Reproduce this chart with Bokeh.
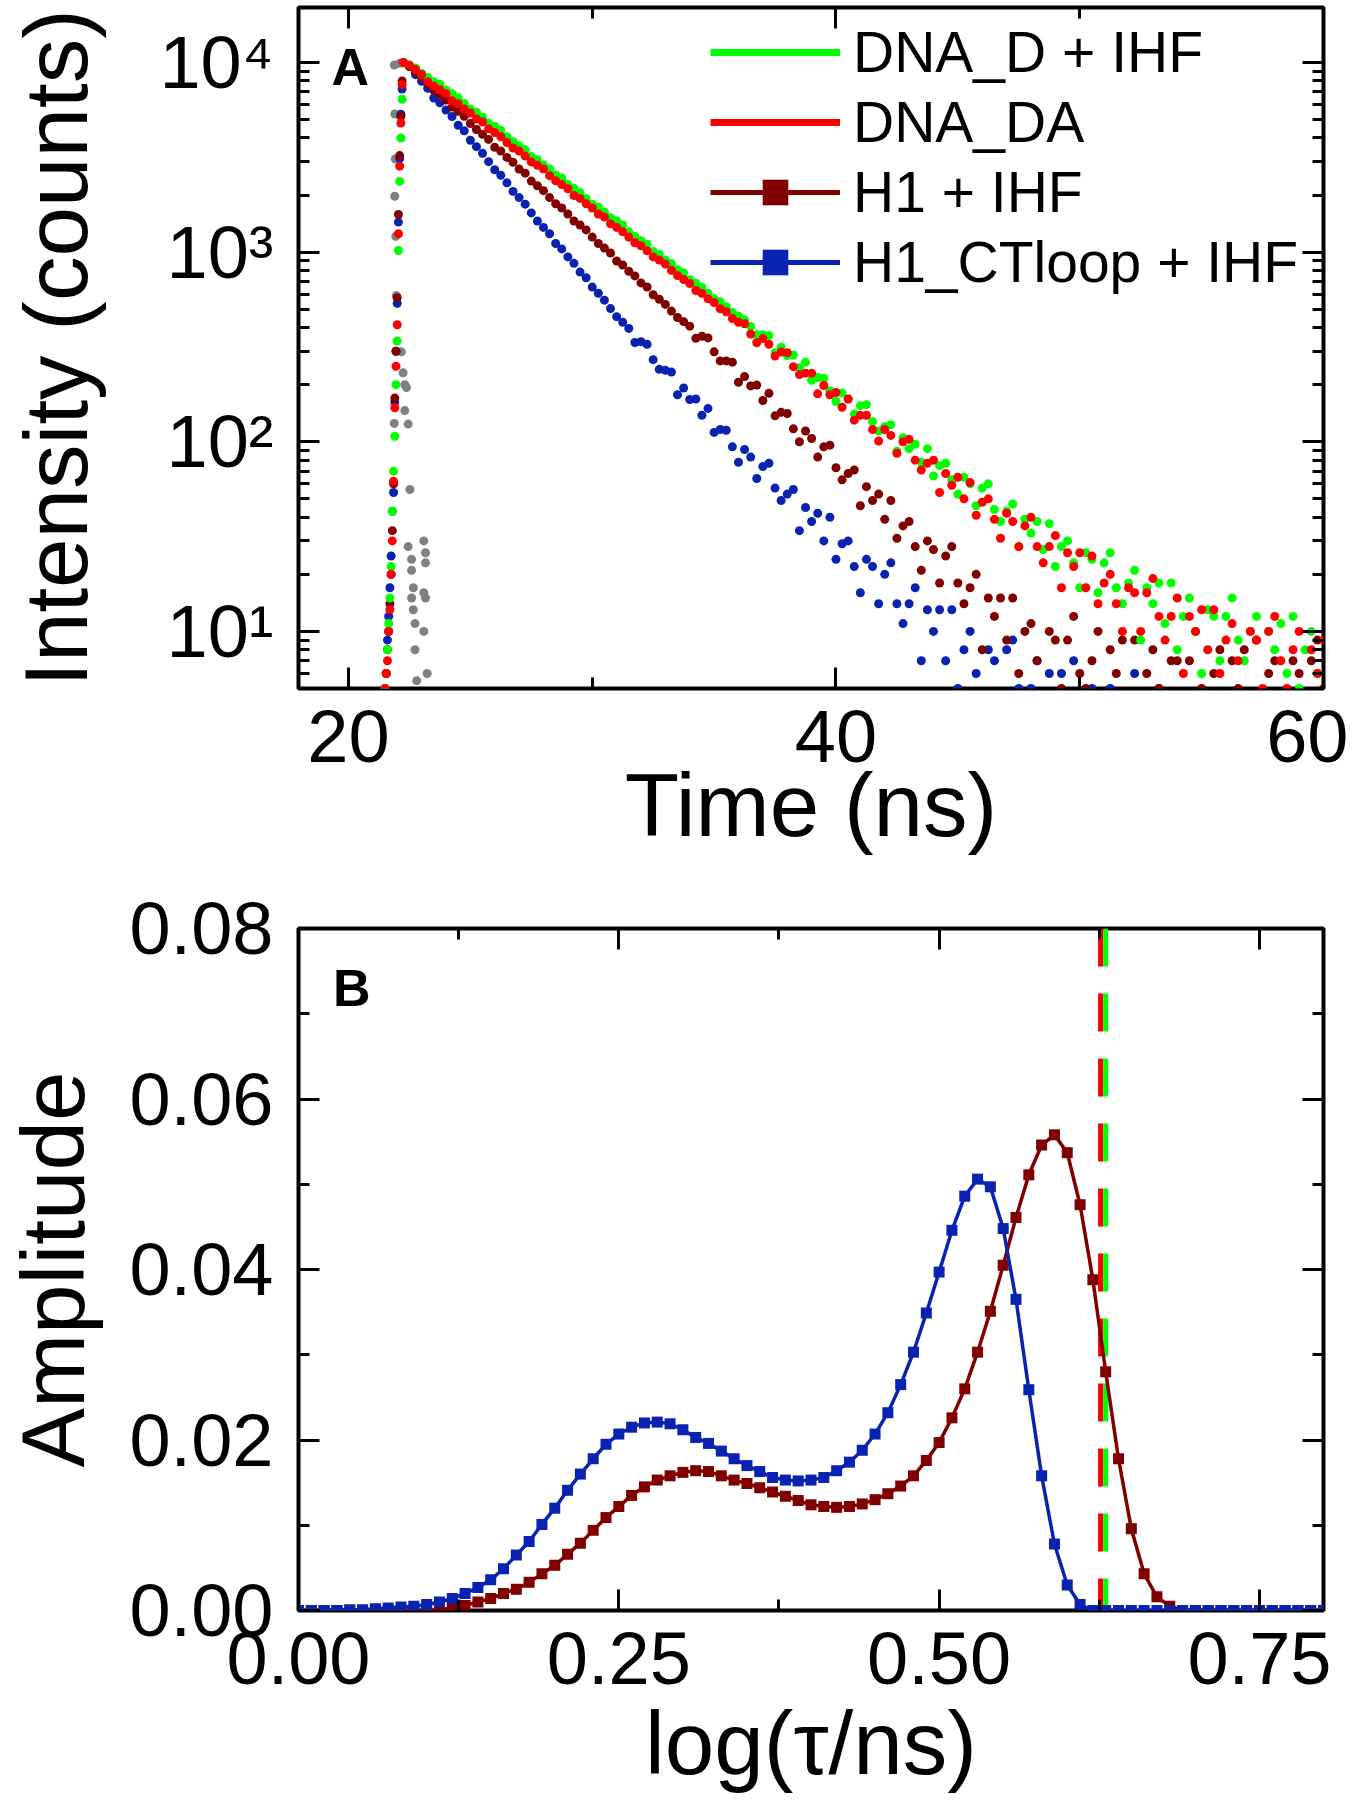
from bokeh.plotting import figure
from bokeh.models import (FixedTicker, CustomJSTickFormatter, LinearAxis, LogAxis,
                          Legend, LegendItem, Span, Label, Range1d)
from bokeh.layouts import column
from bokeh.embed import file_html
from bokeh.resources import INLINE

FONT = "Liberation Sans"
GREEN = "#00FF00"
RED = "#FF0000"
WINE = "#800000"
BLUE = "#0A22B0"
GREY = "#808080"
NAN = float("nan")

# ---------------- Panel A : fluorescence decays (counts vs time, ns) ----------------
time_rise_ns = [21.50, 21.55, 21.60, 21.65, 21.70, 21.75, 21.80, 21.85, 21.90, 21.95,
                22.00, 22.05, 22.10, 22.15, 22.20]

time_decay_ns = [22.25, 22.5, 22.75, 23.0, 23.25, 23.5, 23.75, 24.0, 24.25, 24.5,
                 24.75, 25.0, 25.25, 25.5, 25.75, 26.0, 26.25, 26.5, 26.75, 27.0,
                 27.25, 27.5, 27.75, 28.0, 28.25, 28.5, 28.75, 29.0, 29.25, 29.5,
                 29.75, 30.0, 30.25, 30.5, 30.75, 31.0, 31.25, 31.5, 31.75, 32.0,
                 32.25, 32.5, 32.75, 33.0, 33.25, 33.5, 33.75, 34.0, 34.25, 34.5,
                 34.75, 35.0, 35.25, 35.5, 35.75, 36.0, 36.25, 36.5, 36.75, 37.0,
                 37.25, 37.5, 37.75, 38.0, 38.25, 38.5, 38.75, 39.0, 39.25, 39.5,
                 39.75, 40.0, 40.25, 40.5, 40.75, 41.0, 41.25, 41.5, 41.75, 42.0,
                 42.25, 42.5, 42.75, 43.0, 43.25, 43.5, 43.75, 44.0, 44.25, 44.5,
                 44.75, 45.0, 45.25, 45.5, 45.75, 46.0, 46.25, 46.5, 46.75, 47.0,
                 47.25, 47.5, 47.75, 48.0, 48.25, 48.5, 48.75, 49.0, 49.25, 49.5,
                 49.75, 50.0, 50.25, 50.5, 50.75, 51.0, 51.25, 51.5, 51.75, 52.0,
                 52.25, 52.5, 52.75, 53.0, 53.25, 53.5, 53.75, 54.0, 54.25, 54.5,
                 54.75, 55.0, 55.25, 55.5, 55.75, 56.0, 56.25, 56.5, 56.75, 57.0,
                 57.25, 57.5, 57.75, 58.0, 58.25, 58.5, 58.75, 59.0, 59.25, 59.5,
                 59.75, 60.0]

dna_d_ihf_rise = [5, 6, 8, 11, 15, 22, 43, 70, 107, 200, 340, 1020, 2360, 4000, 6400]
dna_d_ihf_decay = [9940, 9710, 9350, 8750, 8340, 7910, 7690, 7160, 6850, 6510,
                   6070, 5680, 5470, 5150, 4790, 4610, 4390, 4060, 3820, 3640,
                   3470, 3190, 3070, 2880, 2750, 2550, 2460, 2270, 2170, 2060,
                   1920, 1790, 1730, 1630, 1520, 1460, 1390, 1280, 1210, 1150,
                   1100, 1008, 972, 910, 870, 808, 778, 716, 685, 651,
                   607, 568, 547, 515, 480, 461, 439, 406, 367, 367,
                   363, 295, 315, 285, 287, 246, 263, 211, 218, 216,
                   186, 163, 181, 168, 140, 155, 157, 128, 114, 120,
                   123, 89, 105, 92, 97, 78, 92, 66, 75, 77,
                   63, 53, 65, 60, 46, 57, 60, 44, 38, 43,
                   47, 28, 39, 33, 38, 27, 37, 22, 28, 30,
                   23, 17, 26, 24, 16, 23, 26, 17, 14, 18,
                   21, 9, 17, 14, 18, 11, 18, 8, 12, 15,
                   10, 6, 13, 12, 7, 12, 15, 9, 7, 10,
                   12, 4, 10, 8, 11, 6, 12, 5, 8, 10,
                   6, 4]

dna_da_rise = [5, 6, 7, 10, 13, 20, 30, 62, 151, 250, 414, 1250, 2840, 4800, 7650]
dna_da_decay = [10000, 9660, 9180, 8650, 7920, 7520, 7180, 6840, 6280, 6060,
                5680, 5420, 5040, 4850, 4470, 4270, 4060, 3780, 3540, 3410,
                3210, 2990, 2870, 2740, 2530, 2380, 2270, 2160, 1990, 1920,
                1800, 1710, 1590, 1530, 1410, 1350, 1280, 1200, 1120, 1080,
                1016, 944, 908, 865, 802, 752, 717, 683, 628, 606,
                568, 542, 503, 485, 447, 427, 419, 370, 333, 350,
                327, 283, 297, 295, 249, 226, 230, 230, 179, 198,
                177, 182, 152, 168, 130, 138, 138, 116, 101, 116,
                108, 87, 100, 103, 80, 71, 77, 80, 54, 68,
                59, 65, 50, 61, 41, 48, 50, 39, 31, 42,
                38, 28, 36, 40, 28, 23, 28, 32, 17, 26,
                22, 26, 17, 25, 14, 18, 20, 14, 10, 17,
                16, 10, 16, 19, 12, 9, 12, 15, 6, 12,
                10, 13, 8, 13, 6, 9, 11, 7, 4, 10,
                9, 5, 10, 12, 7, 5, 8, 10, 3, 8,
                6, 9]

h1_ihf_rise = [5, 6, 8, 10, 14, 20, 34, 60, 170, 300, 575, 1580, 3230, 5200, 8000]
h1_ihf_decay = [9990, 9540, 8920, 8390, 7720, 7140, 6800, 6340, 5820, 5530,
                5210, 4770, 4430, 4180, 3930, 3570, 3410, 3160, 2980, 2740,
                2610, 2370, 2240, 2110, 1940, 1800, 1710, 1590, 1460, 1390,
                1310, 1200, 1110, 1050, 989, 898, 856, 793, 749, 688,
                655, 596, 564, 530, 489, 452, 430, 407, 351, 360,
                353, 298, 267, 267, 263, 206, 221, 197, 199, 165,
                180, 137, 143, 141, 117, 100, 114, 104, 83, 94,
                96, 73, 63, 68, 71, 46, 58, 49, 53, 39,
                49, 31, 36, 38, 28, 21, 30, 27, 18, 25,
                28, 18, 14, 17, 20, 8, 15, 12, 15, 9,
                15, 6, 10, 11, 7, 4, 10, 9, 5, 9,
                12, 6, 5, 7, 10, 3, 8, 6, 9, 4,
                9, 3, 6, 8, 5, 2, 7, 7, 3, 7,
                10, 5, 4, 6, 8, 2, 7, 5, 8, 4,
                9, 3, 6, 7, 4, 2, 7, 6, 3, 7,
                9, 5]

h1_ctloop_ihf_rise = [5, 6, 9, 12, 17, 25, 43, 54, 162, 300, 537, 1440, 3110, 5340, 7250]
h1_ctloop_ihf_decay = [9970, 9520, 8630, 7960, 7320, 6500, 6130, 5610, 5190, 4670,
                       4360, 3890, 3600, 3320, 3000, 2720, 2540, 2320, 2090, 1940,
                       1790, 1610, 1460, 1350, 1250, 1110, 1040, 944, 873, 785,
                       733, 654, 607, 558, 504, 457, 427, 396, 334, 337,
                       327, 271, 241, 238, 233, 177, 192, 167, 168, 138,
                       150, 112, 116, 115, 94, 78, 91, 83, 64, 74,
                       77, 57, 49, 53, 56, 34, 45, 38, 42, 30,
                       40, 24, 29, 30, 22, 16, 24, 22, 14, 20,
                       23, 14, 11, 14, 17, 7, 13, 10, 13, 7,
                       13, 5, 8, 10, 6, 3, 8, 7, 3, 8,
                       9, 5, 3, 5, 7, 1, 6, 4, 6, 3,
                       7, 2, 4, 5, 3, 1, 5, 4, 1, 4,
                       6, 3, 1, 3, 5, 1, 4, 3, 4, 2,
                       4, 1, 3, 4, 2, 1, 4, 3, 1, 4,
                       4, 2, 1, 3, 4, 1, 3, 2, 4, 1,
                       4, 1]

irf_time_ns = [21.88, 21.90, 21.92, 21.90, 21.94, 21.96, 21.88, 22.10, 22.17, 22.24,
               22.31, 22.38, 22.31, 22.45, 22.52, 22.45, 22.59, 22.59, 22.66, 22.59,
               22.66, 22.73, 22.73, 22.80, 23.09, 23.16, 23.16, 23.09, 23.16, 23.09, 23.23]
irf_counts = [9700, 5350, 3100, 1970, 1210, 590, 125, 9900, 298, 231,
              200, 193, 146, 124, 56, 28, 24, 21, 17, 15,
              13, 11, 8, 5.5, 30, 26, 23, 16, 15, 10, 6]

a_x_ticks = [20, 40, 60]
a_x_tick_labels = ["20", "40", "60"]
a_x_minor = [30, 50]
a_y_ticks = [10, 100, 1000, 10000]
a_y_tick_labels = ["10\u00b9", "10\u00b2", "10\u00b3", "10\u2074"]
a_y_minor = [5, 6, 7, 8, 9, 20, 30, 40, 50, 60, 70, 80, 90,
             200, 300, 400, 500, 600, 700, 800, 900,
             2000, 3000, 4000, 5000, 6000, 7000, 8000, 9000]

# ---------------- Panel B : lifetime distributions ----------------
log_tau = [0.00, 0.01, 0.02, 0.03, 0.04, 0.05, 0.06, 0.07, 0.08, 0.09,
           0.10, 0.11, 0.12, 0.13, 0.14, 0.15, 0.16, 0.17, 0.18, 0.19,
           0.20, 0.21, 0.22, 0.23, 0.24, 0.25, 0.26, 0.27, 0.28, 0.29,
           0.30, 0.31, 0.32, 0.33, 0.34, 0.35, 0.36, 0.37, 0.38, 0.39,
           0.40, 0.41, 0.42, 0.43, 0.44, 0.45, 0.46, 0.47, 0.48, 0.49,
           0.50, 0.51, 0.52, 0.53, 0.54, 0.55, 0.56, 0.57, 0.58, 0.59,
           0.60, 0.61, 0.62, 0.63, 0.64, 0.65, 0.66, 0.67, 0.68, 0.69,
           0.70, 0.71, 0.72, 0.73, 0.74, 0.75, 0.76, 0.77, 0.78, 0.79, 0.80]

amp_h1_ihf = [0.0000, 0.0000, 0.0000, 0.0000, 0.0000, 0.0000, 0.0000, 0.0000, 0.0000, 0.0000,
              0.0000, 0.0001, 0.0003, 0.0006, 0.0010, 0.0014, 0.0020, 0.0025, 0.0033, 0.0043,
              0.0053, 0.0066, 0.0079, 0.0094, 0.0109, 0.0122, 0.0135, 0.0145, 0.0153, 0.0158,
              0.0162, 0.0164, 0.0163, 0.0158, 0.0153, 0.0149, 0.0144, 0.0139, 0.0134, 0.0129,
              0.0124, 0.0122, 0.0121, 0.0122, 0.0125, 0.0130, 0.0137, 0.0146, 0.0158, 0.0176,
              0.0197, 0.0226, 0.0260, 0.0303, 0.0351, 0.0405, 0.0461, 0.0511, 0.0546, 0.0558,
              0.0537, 0.0476, 0.0388, 0.0280, 0.0178, 0.0096, 0.0043, 0.0016, 0.0005, 0.0000,
              0.0000, 0.0000, 0.0000, 0.0000, 0.0000, 0.0000, 0.0000, 0.0000, 0.0000, 0.0000,
              0.0000]

amp_h1_ctloop_ihf = [0.0000, 0.0000, 0.0000, 0.0000, 0.0001, 0.0001, 0.0002, 0.0003, 0.0004, 0.0005,
                     0.0007, 0.0010, 0.0014, 0.0020, 0.0027, 0.0036, 0.0049, 0.0065, 0.0081, 0.0101,
                     0.0120, 0.0141, 0.0160, 0.0178, 0.0195, 0.0207, 0.0215, 0.0220, 0.0221, 0.0219,
                     0.0212, 0.0203, 0.0196, 0.0187, 0.0178, 0.0170, 0.0163, 0.0156, 0.0153, 0.0152,
                     0.0153, 0.0156, 0.0164, 0.0174, 0.0188, 0.0207, 0.0232, 0.0265, 0.0303, 0.0349,
                     0.0397, 0.0446, 0.0486, 0.0506, 0.0497, 0.0448, 0.0365, 0.0259, 0.0158, 0.0078,
                     0.0030, 0.0007, 0.0000, 0.0000, 0.0000, 0.0000, 0.0000, 0.0000, 0.0000, 0.0000,
                     0.0000, 0.0000, 0.0000, 0.0000, 0.0000, 0.0000, 0.0000, 0.0000, 0.0000, 0.0000,
                     0.0000]

logtau_dna_d_ihf = 0.630
logtau_dna_da = 0.626

b_x_ticks = [0.0, 0.25, 0.5, 0.75]
b_x_tick_labels = ["0.00", "0.25", "0.50", "0.75"]
b_x_minor = [0.125, 0.375, 0.625]
b_y_ticks = [0.0, 0.02, 0.04, 0.06, 0.08]
b_y_tick_labels = ["0.00", "0.02", "0.04", "0.06", "0.08"]
b_y_minor = [0.01, 0.03, 0.05, 0.07]

TICK_FS = "74px"
AXLABEL_FS = "89px"


# ---------------- helpers ----------------
def label_fmt(vals, labs):
    return CustomJSTickFormatter(args=dict(vals=vals, labs=labs), code="""
        for (let i = 0; i < vals.length; i++) {
            if (Math.abs(tick - vals[i]) <= 1e-9 + 1e-6 * Math.abs(vals[i])) { return labs[i]; }
        }
        return "";
    """)


def blank_fmt():
    return CustomJSTickFormatter(code="return '';")


def style_axis(ax, show):
    ax.axis_line_color = None
    ax.major_tick_in = 21
    ax.major_tick_out = 0
    ax.minor_tick_in = 11
    ax.minor_tick_out = 0
    ax.major_tick_line_width = 3
    ax.minor_tick_line_width = 3
    ax.major_tick_line_color = "black"
    ax.minor_tick_line_color = "black"
    ax.major_label_text_font = FONT
    ax.major_label_text_color = "black"
    ax.axis_label_text_font = FONT
    ax.axis_label_text_font_style = "normal"
    ax.axis_label_text_color = "black"
    ax.axis_label_text_font_size = AXLABEL_FS
    if show:
        ax.major_label_text_font_size = TICK_FS
    else:
        ax.major_label_text_font_size = "0px"
        ax.major_label_standoff = 0


def style_fig(p):
    p.outline_line_color = "black"
    p.outline_line_width = 4
    p.outline_line_alpha = 1.0
    p.xgrid.grid_line_color = None
    p.ygrid.grid_line_color = None
    p.background_fill_color = "white"
    p.border_fill_color = "white"


# ---------------- Panel A ----------------
pA = figure(frame_width=1025, frame_height=681,
            x_range=Range1d(17.95, 60), y_range=Range1d(5, 19500),
            y_axis_type="log", output_backend="svg", toolbar_location=None,
            min_border_left=297, min_border_right=26, min_border_top=7, min_border_bottom=200)
style_fig(pA)

xA = pA.below[0]
xA.ticker = FixedTicker(ticks=a_x_ticks, minor_ticks=a_x_minor)
xA.formatter = label_fmt(a_x_ticks, a_x_tick_labels)
style_axis(xA, True)
xA.major_label_standoff = 22
xA.axis_label = "Time (ns)"
xA.axis_label_standoff = -10

yA = pA.left[0]
yA.ticker = FixedTicker(ticks=a_y_ticks, minor_ticks=a_y_minor)
yA.formatter = label_fmt(a_y_ticks, a_y_tick_labels)
style_axis(yA, True)
yA.major_label_standoff = 25
yA.axis_label = "Intensity (counts)"
yA.axis_label_standoff = 50

topA = LinearAxis(ticker=FixedTicker(ticks=a_x_ticks, minor_ticks=a_x_minor), formatter=blank_fmt())
style_axis(topA, False)
pA.add_layout(topA, "above")
rightA = LogAxis(ticker=FixedTicker(ticks=a_y_ticks, minor_ticks=a_y_minor), formatter=blank_fmt())
style_axis(rightA, False)
pA.add_layout(rightA, "right")

t_all = time_rise_ns + time_decay_ns
DOT = 9
pA.scatter(irf_time_ns, irf_counts, marker="circle", size=DOT, fill_color=GREY, line_color=None)
pA.scatter(t_all, h1_ctloop_ihf_rise + h1_ctloop_ihf_decay, marker="circle", size=DOT,
           fill_color=BLUE, line_color=None)
pA.scatter(t_all, h1_ihf_rise + h1_ihf_decay, marker="circle", size=DOT,
           fill_color=WINE, line_color=None)
pA.scatter(t_all, dna_d_ihf_rise + dna_d_ihf_decay, marker="circle", size=DOT,
           fill_color=GREEN, line_color=None)
pA.scatter(t_all, dna_da_rise + dna_da_decay, marker="circle", size=DOT,
           fill_color=RED, line_color=None)

# legend samples (line / line+square, as in the original legend); not drawn in the plot
lg_g = pA.line([NAN], [NAN], line_color=GREEN, line_width=7)
lg_r = pA.line([NAN], [NAN], line_color=RED, line_width=7)
lg_w1 = pA.line([NAN], [NAN], line_color=WINE, line_width=5)
lg_w2 = pA.scatter([NAN], [NAN], marker="square", size=13, fill_color=WINE, line_color=None)
lg_b1 = pA.line([NAN], [NAN], line_color=BLUE, line_width=5)
lg_b2 = pA.scatter([NAN], [NAN], marker="square", size=13, fill_color=BLUE, line_color=None)

legend = Legend(items=[LegendItem(label="DNA_D + IHF", renderers=[lg_g], index=0),
                       LegendItem(label="DNA_DA", renderers=[lg_r], index=0),
                       LegendItem(label="H1 + IHF", renderers=[lg_w1, lg_w2], index=0),
                       LegendItem(label="H1_CTloop + IHF", renderers=[lg_b1, lg_b2], index=0)],
                location=(412, 393))
legend.glyph_width = 130
legend.glyph_height = 64
legend.label_height = 64
legend.label_standoff = 13
legend.spacing = 4
legend.padding = 10
legend.margin = 0
legend.label_text_font = FONT
legend.label_text_font_size = "57px"
legend.label_text_color = "black"
legend.border_line_color = None
legend.background_fill_alpha = 0
pA.add_layout(legend)

pA.add_layout(Label(x=19.30, y=9420, text="A", text_font=FONT, text_font_style="bold",
                    text_font_size="52px", text_align="left", text_baseline="alphabetic",
                    text_color="black"))

# ---------------- Panel B ----------------
pB = figure(frame_width=1025, frame_height=682,
            x_range=Range1d(0, 0.8), y_range=Range1d(0, 0.08),
            output_backend="svg", toolbar_location=None,
            min_border_left=297, min_border_right=26, min_border_top=40, min_border_bottom=100)
style_fig(pB)

xB = pB.below[0]
xB.ticker = FixedTicker(ticks=b_x_ticks, minor_ticks=b_x_minor)
xB.formatter = label_fmt(b_x_ticks, b_x_tick_labels)
style_axis(xB, True)
xB.major_label_standoff = 22
xB.axis_label = "log(\u03c4/ns)"
xB.axis_label_standoff = 6

yB = pB.left[0]
yB.ticker = FixedTicker(ticks=b_y_ticks, minor_ticks=b_y_minor)
yB.formatter = label_fmt(b_y_ticks, b_y_tick_labels)
style_axis(yB, True)
yB.major_label_standoff = 25
yB.axis_label = "Amplitude"
yB.axis_label_standoff = 23

topB = LinearAxis(ticker=FixedTicker(ticks=b_x_ticks, minor_ticks=b_x_minor), formatter=blank_fmt())
style_axis(topB, False)
pB.add_layout(topB, "above")
rightB = LinearAxis(ticker=FixedTicker(ticks=b_y_ticks, minor_ticks=b_y_minor), formatter=blank_fmt())
style_axis(rightB, False)
pB.add_layout(rightB, "right")

pB.add_layout(Span(location=logtau_dna_d_ihf, dimension="height", line_color=GREEN,
                   line_width=5, line_dash="38 27", level="underlay"))
pB.add_layout(Span(location=logtau_dna_da, dimension="height", line_color=RED,
                   line_width=5, line_dash="38 27", level="underlay"))

pB.line(log_tau, amp_h1_ihf, line_color=WINE, line_width=3.5)
pB.scatter(log_tau, amp_h1_ihf, marker="square", size=11, fill_color=WINE, line_color=None)
pB.line(log_tau, amp_h1_ctloop_ihf, line_color=BLUE, line_width=3.5)
pB.scatter(log_tau, amp_h1_ctloop_ihf, marker="square", size=11, fill_color=BLUE, line_color=None)

pB.add_layout(Label(x=0.027, y=0.0730, text="B", text_font=FONT, text_font_style="bold",
                    text_font_size="52px", text_align="left", text_baseline="alphabetic",
                    text_color="black"))

layout = column(pA, pB)
open("out.html", "w").write(file_html(layout, INLINE))
